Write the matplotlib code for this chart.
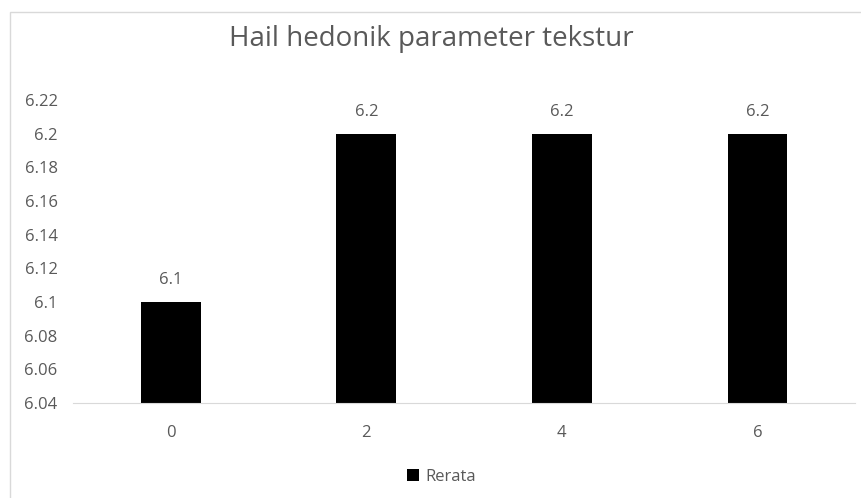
import matplotlib.pyplot as plt
import matplotlib.patches as patches

plt.rcParams['font.family'] = ['Open Sans', 'DejaVu Sans']

# data
categories = ['0', '2', '4', '6']
rerata = [6.1, 6.2, 6.2, 6.2]
yticks = [6.04, 6.06, 6.08, 6.1, 6.12, 6.14, 6.16, 6.18, 6.2, 6.22]
ytick_labels = ['6.04', '6.06', '6.08', '6.1', '6.12', '6.14', '6.16', '6.18', '6.2', '6.22']

grey = '#595959'

fig = plt.figure(figsize=(8.62, 4.98), dpi=100)
ax = fig.add_axes([0.0847, 0.191, 0.9073, 0.608])

x = range(len(categories))
bars = ax.bar(x, rerata, width=0.305, color='black', label='Rerata')
ax.set_xlim(-0.5, len(categories) - 0.5)
ax.set_ylim(6.04, 6.22)
ax.set_yticks(yticks)
ax.set_yticklabels(ytick_labels)
ax.set_xticks(list(x))
ax.set_xticklabels(categories)

for b, v in zip(bars, rerata):
    ax.annotate(f'{v:g}', (b.get_x() + b.get_width() / 2, v), xytext=(0, 10),
                textcoords='offset points', ha='center', va='bottom',
                fontsize=12, color=grey)

for s in ['top', 'right', 'left']:
    ax.spines[s].set_visible(False)
ax.spines['bottom'].set_color('#d9d9d9')
ax.tick_params(axis='x', length=0, labelsize=12, colors=grey, pad=16)
ax.tick_params(axis='y', length=0, labelsize=12, colors=grey, pad=11)

fig.text(0.5, 0.922, 'Hail hedonik parameter tekstur', ha='center', va='center',
         fontsize=20, color=grey)

fig.legend(loc='center', bbox_to_anchor=(0.512, 0.042), frameon=False, fontsize=12,
           labelcolor=grey, handlelength=0.7, handleheight=0.7, handletextpad=0.4)

# outer chart border
fig.patches.append(patches.Rectangle((10 / 862, -0.1), 1.1, 1.1 - 12 / 498,
                                     transform=fig.transFigure, fill=False,
                                     edgecolor='#d9d9d9', linewidth=1))

fig.savefig('out.png', dpi=100)
